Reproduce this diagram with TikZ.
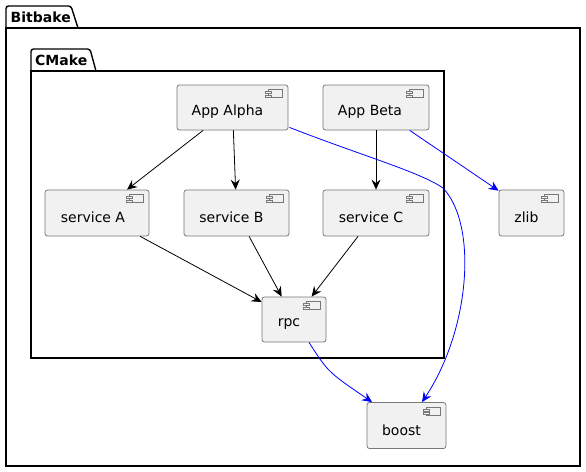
\documentclass[tikz,border=0pt]{standalone}
\usepackage{fontspec}
\setmainfont{DejaVu Sans}
\usetikzlibrary{arrows.meta}
\definecolor{compfill}{RGB}{241,241,241}
\definecolor{compborder}{RGB}{120,120,120}
\tikzset{
  comp/.style={draw=compborder, fill=compfill, rounded corners=2.5pt, line width=0.8pt, inner sep=0pt},
  txt/.style={font=\fontsize{14pt}{16pt}\selectfont, inner sep=0pt},
  pkgline/.style={draw=black, line width=1.4pt, fill=white},
  pkgtitle/.style={font=\fontsize{14pt}{16pt}\selectfont\bfseries, inner sep=0pt, anchor=west},
  icon/.style={draw=compborder, line width=0.7pt, fill=compfill},
  dep/.style={draw=black, line width=0.8pt, -{Stealth[length=10pt,width=9pt,inset=3.5pt]}},
  ext/.style={dep, draw=blue}
}
\newcommand{\compicon}[1]{%
  \draw[icon] ([shift={(-20,5)}]#1.north east) rectangle ([shift={(-6,13)}]#1.north east);
  \draw[icon] ([shift={(-23,7)}]#1.north east) rectangle ([shift={(-17,9)}]#1.north east);
  \draw[icon] ([shift={(-23,10.5)}]#1.north east) rectangle ([shift={(-17,12.5)}]#1.north east);
}
\begin{document}
\begin{tikzpicture}[x=1pt,y=-1pt]
\useasboundingbox (0,0) rectangle (586,471);
% Bitbake package
\draw[pkgline, rounded corners=2.5pt] (6,28) |- (71,6) -- (78,28);
\draw[pkgline] (6,28) rectangle (580,466);
\node[pkgtitle] (bitbake) at (10.5,17.5) {Bitbake};
% CMake package
\draw[pkgline, rounded corners=2.5pt] (31,71) |- (90,49) -- (96,71);
\draw[pkgline] (31,71) rectangle (444,358);
\node[pkgtitle] (cmake) at (35,60) {CMake};
% components
\node[comp, minimum width=111pt, minimum height=45pt,
  label={[txt,xshift=-5pt,yshift=-4.5pt]center:App Alpha}] (aA) at (232.5,107.5) {};
\node[comp, minimum width=106pt, minimum height=45pt,
  label={[txt,xshift=-6pt,yshift=-4.5pt]center:App Beta}] (aB) at (376,107.5) {};
\node[comp, minimum width=104pt, minimum height=46pt,
  label={[txt,xshift=-4pt,yshift=-4.5pt]center:service A}] (sA) at (97,213) {};
\node[comp, minimum width=105pt, minimum height=46pt,
  label={[txt,xshift=-5pt,yshift=-4.5pt]center:service B}] (sB) at (236.5,213) {};
\node[comp, minimum width=106pt, minimum height=46pt,
  label={[txt,xshift=-5pt,yshift=-4.5pt]center:service C}] (sC) at (376,213) {};
\node[comp, minimum width=64pt, minimum height=45pt,
  label={[txt,xshift=-5pt,yshift=-4.5pt]center:rpc}] (rpc) at (294,319.5) {};
\node[comp, minimum width=65pt, minimum height=46pt,
  label={[txt,xshift=-5pt,yshift=-4.5pt]center:zlib}] (zlib) at (531.5,213) {};
\node[comp, minimum width=79pt, minimum height=46pt,
  label={[txt,xshift=-5pt,yshift=-4.5pt]center:boost}] (boost) at (406.5,425.5) {};
\compicon{aA}
\compicon{aB}
\compicon{sA}
\compicon{sB}
\compicon{sC}
\compicon{rpc}
\compicon{zlib}
\compicon{boost}
% connectors
\draw[dep] (aA) -- (sA);
\draw[dep] (aA) -- (sB);
\draw[dep] (aB) -- (sC);
\draw[dep] (sA) -- (rpc);
\draw[dep] (sB) -- (rpc);
\draw[dep] (sC) -- (rpc);
\draw[ext] (aB) -- (zlib);
\draw[ext] ([shift={(1,-3)}]aA.south east) .. controls (360,155) and (420,172) .. (443,188)
  .. controls (478,225) and (470,330) .. ([xshift=15.5pt]boost.north);
\draw[ext] ([xshift=15pt]rpc.south) .. controls (328,372) .. ([xshift=5.5pt]boost.north west);
\end{tikzpicture}
\end{document}
